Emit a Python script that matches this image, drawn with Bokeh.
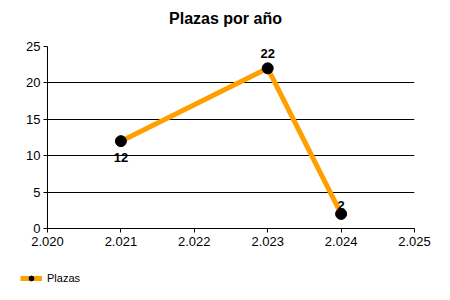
from bokeh.plotting import figure
from bokeh.layouts import column
from bokeh.models import ColumnDataSource, Range1d, FixedTicker, Legend, LegendItem, Label
from bokeh.core.properties import value
from bokeh.embed import file_html
from bokeh.resources import INLINE

years = [2021, 2023, 2024]
plazas = [12, 22, 2]
x_ticks = [2020, 2021, 2022, 2023, 2024, 2025]
x_tick_labels = ["2.020", "2.021", "2.022", "2.023", "2.024", "2.025"]
y_ticks = [0, 5, 10, 15, 20, 25]
series_name = "Plazas"
title_text = "Plazas por año"

FONT = "Liberation Sans"
LINE_COLOR = "#FFA000"


def strip(h):
    f = figure(width=450, height=h, output_backend="svg", toolbar_location=None,
               x_range=Range1d(0, 1), y_range=Range1d(0, 1),
               x_axis_location=None, y_axis_location=None,
               min_border_left=0, min_border_right=0, min_border_top=0, min_border_bottom=0)
    f.grid.visible = False
    f.outline_line_color = None
    f.border_fill_color = "white"
    f.background_fill_color = "white"
    f.frame_align = False
    return f


# title strip
r = strip(30)
r.add_layout(Label(x=225, y=12, x_units="screen", y_units="screen", text=title_text,
                   text_align="center", text_baseline="middle", text_font=FONT,
                   text_font_size="16px", text_font_style="bold", text_color="black"))

p = figure(width=450, height=225, output_backend="svg", toolbar_location=None,
           x_range=Range1d(2020, 2025), y_range=Range1d(0, 25),
           min_border_left=47, min_border_right=36, min_border_top=16, min_border_bottom=27)
p.frame_align = False
p.background_fill_color = "white"
p.border_fill_color = "white"
p.outline_line_color = None

src = ColumnDataSource(dict(x=years, y=plazas, lbl=[str(v) for v in plazas],
                            dy=[16, -15, -8]))
ln = p.line("x", "y", source=src, line_color=LINE_COLOR, line_width=5)
pt = p.scatter("x", "y", source=src, size=11, fill_color="black", line_color="black")
p.text("x", "y", text="lbl", source=src, y_offset="dy", text_align="center",
       text_baseline="middle", text_font=value(FONT), text_font_size="13px",
       text_font_style="bold", text_color="black")

p.xaxis.ticker = FixedTicker(ticks=x_ticks)
p.xaxis.major_label_overrides = {t: l for t, l in zip(x_ticks, x_tick_labels)}
p.yaxis.ticker = FixedTicker(ticks=y_ticks)
for ax in (p.xaxis, p.yaxis):
    ax.axis_line_color = "black"
    ax.major_tick_line_color = "black"
    ax.major_tick_out = 4
    ax.major_tick_in = 0
    ax.minor_tick_line_color = None
    ax.major_label_text_font = FONT
    ax.major_label_text_font_size = "13px"
    ax.major_label_text_color = "black"
p.xaxis.major_label_standoff = 4
p.yaxis.major_label_standoff = 3

p.xgrid.grid_line_color = None
p.ygrid.grid_line_color = "black"
p.ygrid.grid_line_alpha = 1.0

# legend strip below the chart
q = strip(45)
lq = q.line([-5, -4], [-5, -5], line_color=LINE_COLOR, line_width=5)
pq = q.scatter([-5], [-5], size=6, fill_color="black", line_color="black")
legend = Legend(items=[LegendItem(label=series_name, renderers=[lq, pq])],
                location=(20, 16), orientation="horizontal",
                label_text_font=FONT, label_text_font_size="11px",
                label_text_color="black", glyph_width=22, glyph_height=12,
                label_height=12,
                border_line_color=None, background_fill_alpha=0,
                margin=0, padding=0, spacing=0, label_standoff=5)
q.add_layout(legend)

open("out.html", "w").write(file_html(column(r, p, q, spacing=0), INLINE))
